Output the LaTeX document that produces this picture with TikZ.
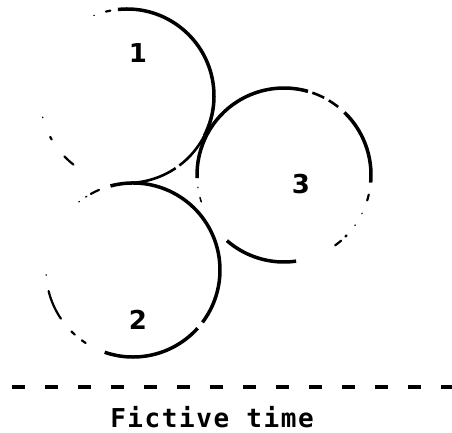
\documentclass[tikz,border=0pt]{standalone}
\usepackage{fontspec}
\newfontfamily\numfont{DejaVu Sans}
\newfontfamily\capfont[LetterSpace=6]{DejaVu Sans Mono}
\begin{document}
\begin{tikzpicture}[x=1pt,y=1pt,
  solidarc/.style={line width=3.5pt},
  thinarc/.style={line width=2.6pt},
  dotarc/.style={line width=2.2pt,line cap=round},
  numlabel/.style={font=\numfont\bfseries\fontsize{26}{26}\selectfont,inner sep=0pt},
  timeaxis/.style={line width=3.5pt,dash pattern=on 13pt off 20pt}]
\useasboundingbox (0,0) rectangle (452,-433);
\coordinate (c1) at (127,-96);
\coordinate (c2) at (133,-270);
\coordinate (c3) at (284,-175);
% circle 1
\draw[solidarc] (c1) ++(96:87) arc[start angle=96,end angle=-27,radius=87];
\draw[thinarc] (c1) ++(-27:87) arc[start angle=-27,end angle=-53,radius=87];
\draw[thinarc] (c1) ++(-56:87) arc[start angle=-56,end angle=-88,radius=87];
\draw[dotarc] (c1) ++(101:87) arc[start angle=101,end angle=104,radius=87];
\draw[dotarc,line width=1pt] (c1) ++(112:87) arc[start angle=112,end angle=112.5,radius=87];
\draw[dotarc,line width=1.2pt] (c1) ++(194:87) arc[start angle=194,end angle=194.5,radius=87];
\draw[dotarc] (c1) ++(208:87) arc[start angle=208,end angle=210,radius=87];
\draw[dotarc] (c1) ++(224:87) arc[start angle=224,end angle=232,radius=87];
% circle 2
\draw[solidarc] (c2) ++(105:87) arc[start angle=105,end angle=-37,radius=87];
\draw[solidarc] (c2) ++(-42:87) arc[start angle=-42,end angle=-109,radius=87];
\draw[dotarc] (c2) ++(113:87) arc[start angle=113,end angle=119,radius=87];
\draw[dotarc,line width=1.2pt] (c2) ++(122:87) arc[start angle=122,end angle=123,radius=87];
\draw[dotarc,line width=1.2pt] (c2) ++(128:87) arc[start angle=128,end angle=128.5,radius=87];
\draw[dotarc,line width=1.2pt] (c2) ++(183:87) arc[start angle=183,end angle=183.5,radius=87];
\draw[dotarc] (c2) ++(194:87) arc[start angle=194,end angle=214,radius=87];
\draw[dotarc] (c2) ++(225:87) arc[start angle=225,end angle=228,radius=87];
\draw[dotarc] (c2) ++(234:87) arc[start angle=234,end angle=237,radius=87];
% circle 3
\draw[solidarc] (c3) ++(182:87) arc[start angle=182,end angle=74,radius=87];
\draw[thinarc] (c3) ++(71:87) arc[start angle=71,end angle=62.5,radius=87];
\draw[thinarc] (c3) ++(59:87) arc[start angle=59,end angle=51.5,radius=87];
\draw[solidarc] (c3) ++(46:87) arc[start angle=46,end angle=-5,radius=87];
\draw[dotarc] (c3) ++(-13:87) arc[start angle=-13,end angle=-17,radius=87];
\draw[dotarc,line width=1.2pt] (c3) ++(-26:87) arc[start angle=-26,end angle=-26.5,radius=87];
\draw[dotarc,line width=1.2pt] (c3) ++(-35:87) arc[start angle=-35,end angle=-35.5,radius=87];
\draw[dotarc] (c3) ++(-44:87) arc[start angle=-44,end angle=-45,radius=87];
\draw[dotarc] (c3) ++(-49:87) arc[start angle=-49,end angle=-54,radius=87];
\draw[solidarc] (c3) ++(-82:87) arc[start angle=-82,end angle=-131,radius=87];
\draw[dotarc,line width=1.2pt] (c3) ++(-172:87) arc[start angle=-172,end angle=-171.5,radius=87];
\draw[dotarc,line width=1.5pt] (c3) ++(-165:87) arc[start angle=-165,end angle=-162,radius=87];
% labels
\node[numlabel] (n1) at (138,-53) {1};
\node[numlabel] (n2) at (138,-320) {2};
\node[numlabel] (n3) at (301,-184) {3};
% axis
\coordinate (a0) at (12,-387);
\coordinate (a1) at (452,-387);
\draw[timeaxis] (a0) -- (a1);
\node[anchor=base,inner sep=0pt,font=\capfont\bfseries\fontsize{26}{26}\selectfont] (cap) at (212,-427) {Fictive time};
\end{tikzpicture}
\end{document}
